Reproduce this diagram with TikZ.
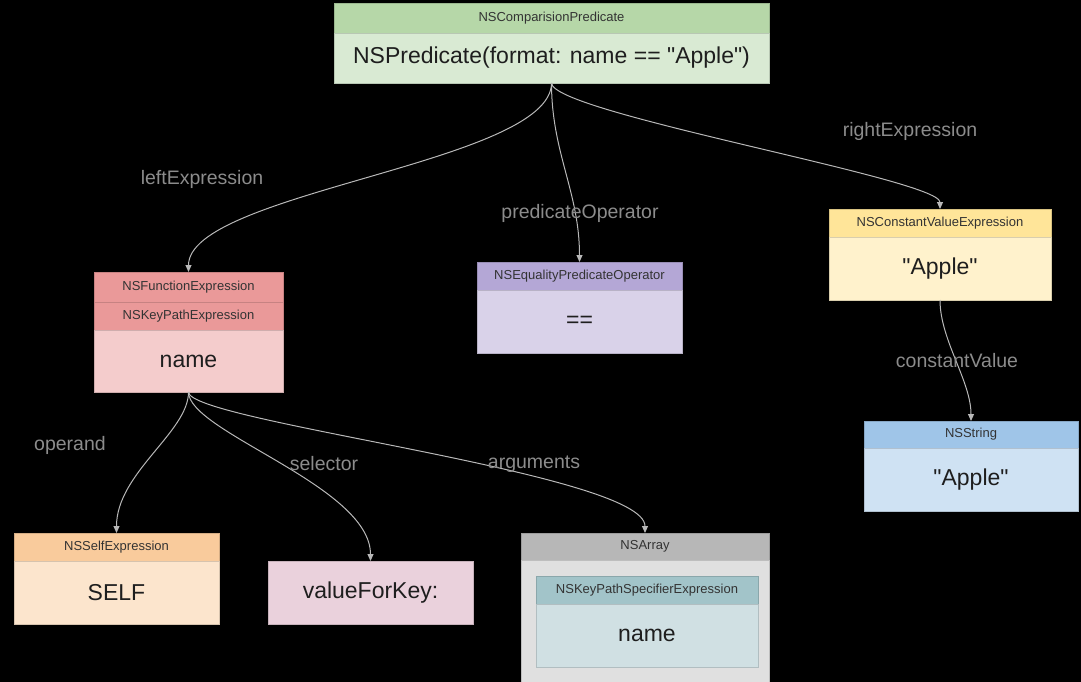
\documentclass[tikz,border=0pt]{standalone}
\usepackage{fontspec}
\setmainfont{Liberation Sans}[Ligatures=TeXOff]
\usetikzlibrary{arrows.meta}
\definecolor{grH}{HTML}{B6D7A8}\definecolor{grB}{HTML}{D9EAD3}
\definecolor{rdH}{HTML}{EA9999}\definecolor{rdB}{HTML}{F4CCCC}
\definecolor{puH}{HTML}{B4A7D6}\definecolor{puB}{HTML}{D9D2E9}
\definecolor{yeH}{HTML}{FFE599}\definecolor{yeB}{HTML}{FFF2CC}
\definecolor{blH}{HTML}{9FC5E8}\definecolor{blB}{HTML}{CFE2F3}
\definecolor{orH}{HTML}{F9CB9C}\definecolor{orB}{HTML}{FCE5CD}
\definecolor{pkB}{HTML}{EAD1DC}
\definecolor{gyH}{HTML}{B7B7B7}\definecolor{gyB}{HTML}{E0E0E0}
\definecolor{cyH}{HTML}{A2C4C9}\definecolor{cyB}{HTML}{D0E0E3}
\definecolor{lblc}{HTML}{8C8C8C}
\definecolor{edgec}{HTML}{B8B8B8}
\definecolor{htext}{HTML}{333333}
\definecolor{btext}{HTML}{1E1E1E}
\tikzset{
  cell/.style={rectangle, inner sep=0pt, outer sep=0pt, draw=#1!85!black, line width=0.6pt, fill=#1},
  hdr/.style={cell=#1, text=htext, font=\fontsize{13}{15}\selectfont},
  bdy/.style={cell=#1, text=btext, font=\fontsize{23}{27}\selectfont},
  lbl/.style={text=lblc, inner sep=0pt, font=\fontsize{19.5}{23}\selectfont},
  conn/.style={draw=edgec, line width=1pt, -{Triangle[length=7pt,width=6pt]}}
}
\begin{document}
\begin{tikzpicture}[x=1pt,y=-1pt]
\useasboundingbox (0,0) rectangle (1081,682);
\clip (0,0) rectangle (1081,682);
\fill[black] (0,0) rectangle (1081,682);
% top
\node[hdr=grH, minimum width=435pt, minimum height=30pt] (topH) at (551.5,18) {NSComparisionPredicate};
\node[bdy=grB, minimum width=435pt, minimum height=50pt] (topB) at (551.5,58) {NSPredicate(format: name == "Apple")};
% left
\node[hdr=rdH, minimum width=189pt, minimum height=30pt] (LH1) at (188.5,287) {NSFunctionExpression};
\node[hdr=rdH, minimum width=189pt, minimum height=28pt] (LH2) at (188.5,316) {NSKeyPathExpression};
\node[bdy=rdB, minimum width=189pt, minimum height=62pt] (LB) at (188.5,361) {name};
% middle
\node[hdr=puH, minimum width=205pt, minimum height=28pt] (MH) at (579.5,276) {NSEqualityPredicateOperator};
\node[bdy=puB, minimum width=205pt, minimum height=63pt] (MB) at (579.5,321.5) {==};
% constant
\node[hdr=yeH, minimum width=222pt, minimum height=28pt] (CH) at (940,223) {NSConstantValueExpression};
\node[bdy=yeB, minimum width=222pt, minimum height=63pt] (CB) at (940,268.5) {"Apple"};
% NSString
\node[hdr=blH, minimum width=214pt, minimum height=27pt] (SH) at (971,434.5) {NSString};
\node[bdy=blB, minimum width=214pt, minimum height=63pt] (SB) at (971,479.5) {"Apple"};
% self
\node[hdr=orH, minimum width=205pt, minimum height=28pt] (FH) at (116.5,547) {NSSelfExpression};
\node[bdy=orB, minimum width=205pt, minimum height=63pt] (FB) at (116.5,592.5) {SELF};
% valueForKey
\node[bdy=pkB, minimum width=205pt, minimum height=63pt] (V) at (370.5,592.5) {valueForKey:};
% array
\node[hdr=gyH, minimum width=248pt, minimum height=27pt] (AH) at (645,546.5) {NSArray};
\node[cell=gyB, minimum width=248pt, minimum height=130pt] (AB) at (645,625) {};
\node[hdr=cyH, minimum width=222pt, minimum height=28pt] (KH) at (647,590) {NSKeyPathSpecifierExpression};
\node[bdy=cyB, minimum width=222pt, minimum height=63pt] (KB) at (647,635.5) {name};
% connectors
\draw[conn] (topB.south) .. controls +(0,80) and +(0,-80) .. (LH1.north);
\draw[conn] (topB.south) .. controls +(0,70) and +(0,-70) .. (MH.north);
\draw[conn] (topB.south) .. controls +(0,30) and +(0,-30) .. (CH.north);
\draw[conn] (CB.south) .. controls +(0,40) and +(0,-40) .. (SH.north);
\draw[conn] (LB.south) .. controls +(0,40) and +(0,-60) .. (FH.north);
\draw[conn] (LB.south) .. controls +(0,40) and +(0,-75) .. (V.north);
\draw[conn] (LB.south) .. controls +(0,30) and +(0,-60) .. (AH.north);
% labels
\node[lbl] (l1) at (202,179) {leftExpression};
\node[lbl] (l2) at (580,213) {predicateOperator};
\node[lbl] (l3) at (910,131) {rightExpression};
\node[lbl] (l4) at (957,361) {constantValue};
\node[lbl] (l5) at (70,445) {operand};
\node[lbl] (l6) at (324,464) {selector};
\node[lbl] (l7) at (534,464) {arguments};
\end{tikzpicture}
\end{document}
